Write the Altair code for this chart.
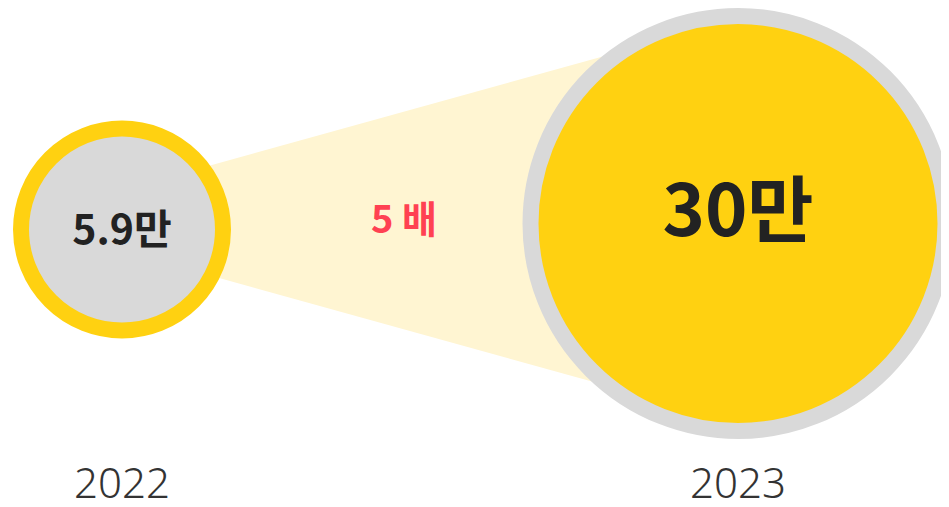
import altair as alt
import pandas as pd

# ---- data ----
years = [2022, 2023]
values = [5.9, 30]
value_labels = ["5.9만", "30만"]
year_labels = ["2022", "2023"]
ratio_label = "5 배"

# ---- style constants ----
YELLOW = "#FFD111"
GRAY = "#D9D9D9"
PALE = "#FFF5D2"
DARK = "#222222"
RED = "#FF4152"
FONT = "Noto Sans CJK KR"

W, H = 933, 491

circles = pd.DataFrame({"year": years, "value": values, "label": value_labels,
                        "ylabel": year_labels})
band = pd.DataFrame({"year": years, "top": [182, 11], "bottom": [243, 414]})

xs = alt.Scale(domain=[2022, 2023], range=[114, 730])
ys = alt.Scale(domain=[0, H], range=[0, H])

area = alt.Chart(band).mark_area(color=PALE, opacity=1).encode(
    x=alt.X("year:Q", scale=xs, axis=None),
    y=alt.Y("top:Q", scale=ys, axis=None),
    y2="bottom:Q",
)

# symbol size = bounding-box area -> (2r)^2, r measured at stroke centre
size_scale = alt.Scale(type="linear", zero=False, domain=[5.9, 30], range=[40804, 172225])

base_circle = alt.Chart(circles).mark_circle(
    opacity=1, fillOpacity=1, strokeOpacity=1, strokeWidth=16
).encode(
    x=alt.X("year:Q", scale=xs, axis=None),
    size=alt.Size("value:Q", scale=size_scale, legend=None),
    fill=alt.Fill("year:N", scale=alt.Scale(domain=years, range=[GRAY, YELLOW]), legend=None),
    stroke=alt.Stroke("year:N", scale=alt.Scale(domain=years, range=[YELLOW, GRAY]), legend=None),
)
c_left = base_circle.transform_filter(alt.datum.year == 2022).encode(y=alt.value(221.5))
c_right = base_circle.transform_filter(alt.datum.year == 2023).encode(y=alt.value(215.5))

lbl_left = alt.Chart(circles).transform_filter(alt.datum.year == 2022).mark_text(
    font=FONT, fontSize=41, fontWeight="bold", color=DARK, baseline="middle", align="center"
).encode(x=alt.X("year:Q", scale=xs, axis=None), y=alt.value(224), text="label:N")

lbl_right = alt.Chart(circles).transform_filter(alt.datum.year == 2023).mark_text(
    font=FONT, fontSize=72, fontWeight="bold", color=DARK, baseline="middle", align="center"
).encode(x=alt.X("year:Q", scale=xs, axis=None), y=alt.value(206), text="label:N")

ratio = alt.Chart(pd.DataFrame({"t": [ratio_label]})).mark_text(
    font=FONT, fontSize=38, fontWeight="bold", color=RED, baseline="middle", align="center"
).encode(x=alt.value(396), y=alt.value(214), text="t:N")

yr = alt.Chart(circles).mark_text(
    font="Noto Sans", fontSize=42, fontWeight=300, color="#333333", baseline="alphabetic", align="center"
).encode(x=alt.X("year:Q", scale=xs, axis=None), y=alt.value(490), text="ylabel:N")

chart = alt.layer(area, c_left, c_right, lbl_left, lbl_right, ratio, yr).properties(
    width=W, height=H, padding=0, autosize=alt.AutoSizeParams(type="none")
).configure_view(stroke=None)

chart.save("out.html", embed_options={"renderer": "svg", "actions": False})
